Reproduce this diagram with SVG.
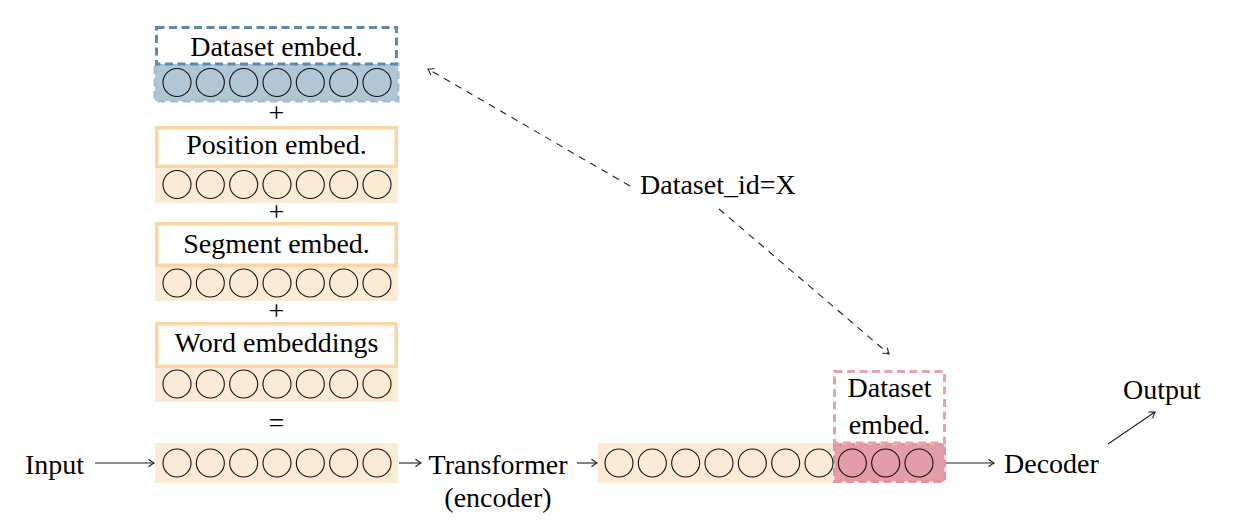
<svg xmlns="http://www.w3.org/2000/svg" width="1247" height="522" viewBox="0 0 1247 522">
<defs>
<style>
text{font-family:"Liberation Serif","Times New Roman",serif;font-size:28px;fill:#000}
.mid{text-anchor:middle}
.c{fill:none;stroke:#111;stroke-width:1.1}
.orow{fill:#FCEBD4}
.obox{fill:#fff;stroke:#FAD6A4;stroke-width:3.5}
.arr{stroke:#222;stroke-width:1.1;fill:none}
.dash{stroke:#222;stroke-width:1.1;fill:none;stroke-dasharray:7 6}
</style>
<marker id="ah" markerWidth="12" markerHeight="12" refX="0" refY="0" viewBox="-8 -6 10 12" orient="auto" markerUnits="userSpaceOnUse">
<path d="M-5.5,-3.8 Q-1.5,-0.8 0,0 Q-1.5,0.8 -5.5,3.8" fill="none" stroke="#222" stroke-width="1.1"/>
</marker>
<g id="circ7">
<circle class="c" cx="0" cy="0" r="14"/>
<circle class="c" cx="33.33" cy="0" r="14"/>
<circle class="c" cx="66.67" cy="0" r="14"/>
<circle class="c" cx="100" cy="0" r="14"/>
<circle class="c" cx="133.33" cy="0" r="14"/>
<circle class="c" cx="166.67" cy="0" r="14"/>
<circle class="c" cx="200" cy="0" r="14"/>
</g>
</defs>
<rect width="1247" height="522" fill="#fff"/>

<g id="dataset-embed">
<rect x="155" y="64" width="243" height="37" fill="#AFC6D4" stroke="#A3BED0" stroke-width="3" stroke-dasharray="8 4.5"/>
<rect x="156.5" y="27.5" width="240" height="36.5" fill="#fff" stroke="#5E89A8" stroke-width="3" stroke-dasharray="8 4.5"/>
<text class="mid" x="276.5" y="56">Dataset embed.</text>
<use href="#circ7" x="177" y="82.5"/>
</g>
<text class="mid" x="276.5" y="122">+</text>

<g id="position-embed">
<rect class="orow" x="155" y="166" width="243" height="37"/>
<rect class="obox" x="156.75" y="127.75" width="239.5" height="38.5"/>
<text class="mid" x="276.5" y="154">Position embed.</text>
<use href="#circ7" x="177" y="184.5"/>
</g>
<text class="mid" x="276.5" y="221">+</text>

<g id="segment-embed">
<rect class="orow" x="155" y="265" width="243" height="36"/>
<rect class="obox" x="156.75" y="223.75" width="239.5" height="41.5"/>
<text class="mid" x="276.5" y="253">Segment embed.</text>
<use href="#circ7" x="177" y="283"/>
</g>
<text class="mid" x="276.5" y="320">+</text>

<g id="word-embed">
<rect class="orow" x="155" y="366" width="243" height="36"/>
<rect class="obox" x="156.75" y="323.75" width="239.5" height="42.5"/>
<text class="mid" x="276.5" y="352">Word embeddings</text>
<use href="#circ7" x="177" y="384"/>
</g>
<text class="mid" x="276.5" y="432">=</text>

<g id="input">
<text x="25" y="474">Input</text>
</g>

<g id="input-row">
<rect class="orow" x="155" y="443" width="243" height="40"/>
<use href="#circ7" x="177" y="463"/>
</g>

<g id="transformer">
<text class="mid" x="498" y="474">Transformer</text>
<text class="mid" x="498" y="507">(encoder)</text>
</g>

<g id="encoded-row">
<rect class="orow" x="598" y="443" width="236" height="40"/>
<rect x="834.5" y="444.5" width="110" height="37" fill="#E49DA8" stroke="#E5939F" stroke-width="3" stroke-dasharray="8 4.5"/>
<use href="#circ7" x="619" y="463"/>
<circle class="c" cx="852.33" cy="463" r="14"/>
<circle class="c" cx="885.67" cy="463" r="14"/>
<circle class="c" cx="919" cy="463" r="14"/>
</g>

<g id="pink-dataset-embed">
<rect x="834.5" y="371.5" width="110" height="71.5" fill="#fff" stroke="#E8A2AE" stroke-width="3" stroke-dasharray="8 4.5"/>
<text class="mid" x="889.5" y="397">Dataset</text>
<text class="mid" x="889.5" y="434">embed.</text>
</g>

<g id="decoder">
<text x="1004" y="473">Decoder</text>
</g>

<g id="output">
<text x="1123" y="399">Output</text>
</g>

<g id="dataset-id">
<text x="640" y="194">Dataset_id=X</text>
</g>

<g id="connectors">
<line class="arr" x1="95" y1="463" x2="154" y2="463" marker-end="url(#ah)"/>
<line class="arr" x1="399" y1="463" x2="421" y2="463" marker-end="url(#ah)"/>
<line class="arr" x1="577" y1="463" x2="597" y2="463" marker-end="url(#ah)"/>
<line class="arr" x1="946" y1="463" x2="994" y2="463" marker-end="url(#ah)"/>
<line class="arr" x1="1108" y1="444" x2="1155" y2="412" marker-end="url(#ah)"/>
<line class="dash" x1="630" y1="186" x2="428" y2="69" marker-end="url(#ah)"/>
<line class="dash" x1="719" y1="209" x2="889" y2="354" marker-end="url(#ah)"/>
</g>
</svg>
